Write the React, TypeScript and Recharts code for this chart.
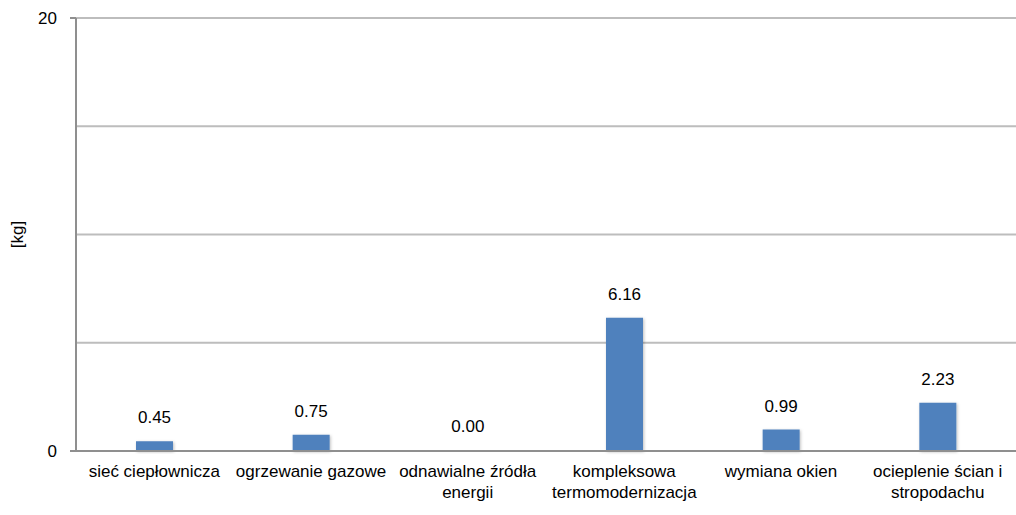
import { BarChart, Bar, XAxis, YAxis, CartesianGrid, LabelList, Label, Cell } from 'recharts';

const categories = [
  'sieć ciepłownicza',
  'ogrzewanie gazowe',
  'odnawialne źródła\nenergii',
  'kompleksowa\ntermomodernizacja',
  'wymiana okien',
  'ocieplenie ścian i\nstropodachu',
];
const values = [0.45, 0.75, 0.0, 6.16, 0.99, 2.23];
const yTicks = [0, 5, 10, 15, 20];
const yLabeled = [0, 20];

const data = categories.map((name, i) => ({ name, value: values[i] }));

const FONT = '"Liberation Sans", Arial, sans-serif';
const AXIS = '#8f8f8f';
const GRID = '#bdbdbd';
const BAR = '#4f81bd';

const XTick = ({ x, y, payload }: any) => {
  const lines = String(payload.value).split('\n');
  return (
    <text x={x} y={y} textAnchor="middle" fontSize={17} fontFamily={FONT} fill="#000">
      {lines.map((l, i) => (
        <tspan key={i} x={x} dy={i === 0 ? 18 : 21}>
          {l}
        </tspan>
      ))}
    </text>
  );
};

const YTick = ({ x, y, payload }: any) => {
  if (!yLabeled.includes(payload.value)) return null;
  return (
    <g>
      <line x1={x + 2} x2={x + 8} y1={y} y2={y} stroke={AXIS} strokeWidth={2} />
      <text x={x - 11} y={y} dy={6} textAnchor="end" fontSize={17} fontFamily={FONT} fill="#000">
        {payload.value}
      </text>
    </g>
  );
};

const YLabel = ({ viewBox }: any) => {
  const cy = viewBox.y + viewBox.height / 2;
  return (
    <text
      x={17}
      y={cy}
      transform={`rotate(-90, 17, ${cy})`}
      textAnchor="middle"
      dominantBaseline="central"
      fontSize={17}
      fontFamily={FONT}
      fill="#000"
    >
      [kg]
    </text>
  );
};

export default function App() {
  return (
    <div style={{ position: 'absolute', left: 0, top: 0, width: 1016, height: 515, background: '#fff' }}>
      <svg width={0} height={0} style={{ position: 'absolute' }}>
        <defs>
          <filter id="barShadow" x="-30%" y="-30%" width="160%" height="160%">
            <feDropShadow dx={1} dy={1} stdDeviation={1.5} floodColor="#000" floodOpacity={0.25} />
          </filter>
        </defs>
      </svg>
      <BarChart width={1016} height={515} data={data} margin={{ top: 18, right: 0, bottom: 4, left: 0 }}>
        <CartesianGrid vertical={false} stroke={GRID} strokeWidth={2} />
        <XAxis
          dataKey="name"
          height={60}
          interval={0}
          tickLine={false}
          axisLine={{ stroke: AXIS, strokeWidth: 2 }}
          tick={<XTick />}
        />
        <YAxis
          width={76}
          domain={[0, 20]}
          ticks={yTicks}
          tickLine={false}
          axisLine={{ stroke: AXIS, strokeWidth: 2 }}
          tick={<YTick />}
        >
          <Label content={<YLabel />} />
        </YAxis>
        <Bar dataKey="value" fill={BAR} barSize={37} minPointSize={1} isAnimationActive={false}>
          {values.map((v, i) => (
            <Cell
              key={i}
              fill={v > 0 ? BAR : 'transparent'}
              filter={v > 0 ? 'url(#barShadow)' : undefined}
            />
          ))}
          <LabelList
            dataKey="value"
            position="top"
            offset={18}
            formatter={(v: any) => Number(v).toFixed(2)}
            style={{ fontSize: 17, fontFamily: FONT, fill: '#000' }}
          />
        </Bar>
      </BarChart>
    </div>
  );
}
